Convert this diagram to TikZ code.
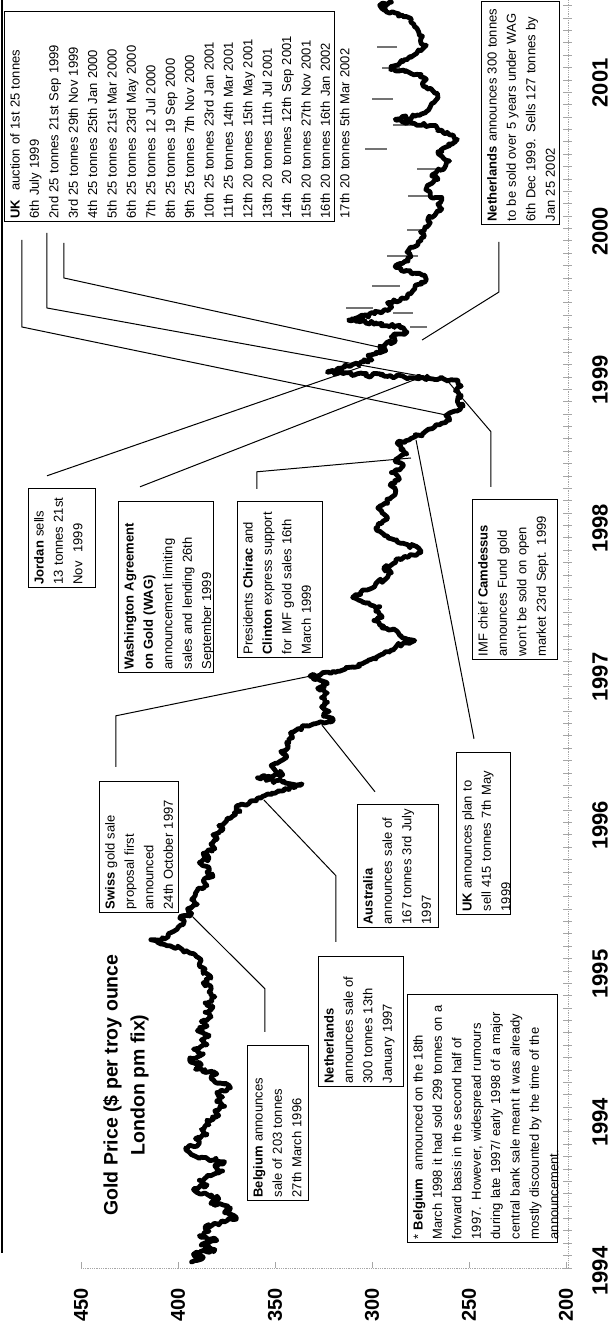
\documentclass[tikz,border=0pt]{standalone}
\usepackage{fontspec}
\setmainfont{Liberation Sans}
\usetikzlibrary{calc,decorations.pathmorphing}
\newcommand{\infofont}{\fontsize{13}{19.4}\selectfont}
\tikzset{
  infobox/.style={draw, line width=1.2pt, inner sep=3pt, align=left, anchor=north west, font=\infofont, text height=12pt},
  leader/.style={black, line width=1pt},
  goldline/.style={line width=4.8pt, line join=round, line cap=round, decorate, decoration={random steps, segment length=2.5pt, amplitude=2pt}},
  auction/.style={black!55, line width=1.2pt},
  axisline/.style={gray!70, line width=0.8pt, densely dotted},
  tickline/.style={gray!70, line width=0.8pt},
  yearlbl/.style={font=\fontsize{22}{24}\selectfont\bfseries},
  pricelbl/.style={font=\fontsize{20}{22}\selectfont\bfseries, anchor=east},
  titlelbl/.style={font=\fontsize{19.5}{27}\selectfont\bfseries, align=center}
}

\begin{document}
\begin{tikzpicture}[x=1pt,y=1pt]
\begin{scope}[rotate=90, transform shape]
  \useasboundingbox (0,0) rectangle (1326,616);
  \draw[line width=2.5pt] (73,614) -- (1326,614);
  % axes
  \draw[axisline] (58,48) -- (58,535);
  \draw[axisline] (58,48) -- (1326,48);
  \foreach \p in {200,250,...,450}{
    \draw[tickline] (58,{50+1.94*(\p-200)}) -- ++(6,0);
    \node[pricelbl] (p\p) at (41,{50+1.94*(\p-200)}) {\p};
  }
  \foreach \m in {0,...,102}
    \draw[tickline] ({58+12.375*\m},44) -- ++(0,9);
  \foreach \yr [count=\k from 0] in {1994,1994,1995,1996,1997,1998,1999,2000,2001}
    \node[yearlbl] (yr\k) at ({55+148.5*\k},16) {\yr};
  \node[titlelbl] (title) at (241,490) {Gold Price (\$ per troy ounce\\London pm fix)};

  % price curve, t in years from Jan 1994, p in $
  \begin{scope}[shift={(64pt,-338pt)}, x=154.2pt, y=1.94pt]
    \foreach \t/\a/\b in {7.879/287.1/297.4, 7.743/285.6/294.8, 7.542/289.2/300.0,
        7.374/278.9/289.2, 7.218/292.3/303.6, 7.088/266.5/276.8, 6.913/270.1/281.4,
        6.693/274.2/282.0, 6.524/276.3/292.3, 6.329/285.6/300.0, 6.187/299.5/313.4,
        6.154/278.9/289.2, 6.064/271.6/280.4}
      \draw[auction] (\t,\a) -- (\t,\b);
    \pgfmathsetseed{11}
    \draw[goldline] plot coordinates {
      (0.00,393) (0.03,387) (0.05,392) (0.08,381) (0.11,388) (0.14,380) (0.17,389) (0.20,384) (0.23,386) (0.26,376)
      (0.29,370) (0.32,376) (0.35,373) (0.38,383) (0.41,379) (0.44,388) (0.47,392) (0.50,385) (0.53,389) (0.56,383)
      (0.59,377) (0.62,381) (0.65,376) (0.68,388) (0.71,394) (0.74,396) (0.77,389) (0.80,391) (0.83,385) (0.86,388)
      (0.89,384) (0.92,385) (0.95,379) (0.98,381) (1.01,376) (1.04,380) (1.07,377) (1.10,380) (1.13,373) (1.16,378)
      (1.19,383) (1.22,380) (1.25,391) (1.28,388) (1.31,394) (1.35,387) (1.38,392) (1.41,385) (1.44,388) (1.47,384)
      (1.50,390) (1.53,385) (1.56,388) (1.59,383) (1.62,386) (1.65,382) (1.68,386) (1.72,381) (1.75,384) (1.78,383)
      (1.81,387) (1.84,383) (1.87,387) (1.90,386) (1.93,389) (1.96,388) (1.99,391) (2.02,396) (2.05,404) (2.07,410)
      (2.09,414) (2.11,405) (2.14,403) (2.17,400) (2.20,397) (2.23,399) (2.26,393) (2.29,395) (2.32,390) (2.35,393)
      (2.38,391) (2.41,390) (2.44,385) (2.47,387) (2.50,382) (2.53,385) (2.56,384) (2.59,389) (2.62,384) (2.65,387)
      (2.68,381) (2.71,383) (2.74,380) (2.77,382) (2.80,377) (2.83,379) (2.86,375) (2.89,372) (2.92,368) (2.95,370)
      (2.98,363) (3.01,357) (3.04,350) (3.07,345) (3.10,336) (3.12,350) (3.14,359) (3.16,346) (3.19,350) (3.22,352)
      (3.25,347) (3.28,344) (3.31,347) (3.34,343) (3.37,344) (3.40,341) (3.43,342) (3.46,338) (3.49,330) (3.51,320)
      (3.54,325) (3.57,322) (3.60,326) (3.63,323) (3.66,326) (3.69,323) (3.72,328) (3.75,323) (3.78,330) (3.80,332)
      (3.83,320) (3.86,310) (3.88,305) (3.91,298) (3.94,295) (3.97,289) (4.00,287) (4.03,278) (4.06,285) (4.10,290)
      (4.13,296) (4.16,299) (4.19,295) (4.22,298) (4.25,296) (4.28,305) (4.31,310) (4.34,306) (4.37,300) (4.40,298)
      (4.44,292) (4.47,290) (4.50,294) (4.53,289) (4.56,286) (4.60,275) (4.63,276) (4.66,285) (4.69,290) (4.72,294)
      (4.76,298) (4.79,295) (4.82,292) (4.86,295) (4.89,297) (4.92,292) (4.95,292) (4.98,288) (5.01,288) (5.05,290)
      (5.08,286) (5.12,290) (5.16,284) (5.20,288) (5.24,282) (5.27,284) (5.31,287) (5.34,280) (5.37,274) (5.40,271)
      (5.43,265) (5.46,260) (5.49,262) (5.52,257) (5.55,253) (5.58,256) (5.62,254) (5.65,257) (5.68,254) (5.72,256)
      (5.73,265) (5.75,300) (5.77,323) (5.79,318) (5.82,310) (5.85,300) (5.88,302) (5.91,293) (5.94,296) (5.97,288)
      (6.00,290) (6.03,282) (6.06,284) (6.09,298) (6.11,312) (6.13,305) (6.16,296) (6.19,290) (6.22,292) (6.25,282)
      (6.28,280) (6.31,278) (6.34,276) (6.37,272) (6.40,274) (6.43,285) (6.46,288) (6.49,283) (6.52,280) (6.55,282)
      (6.58,279) (6.62,276) (6.65,273) (6.68,275) (6.71,272) (6.74,270) (6.77,271) (6.80,267) (6.83,264) (6.86,266)
      (6.89,264) (6.92,270) (6.96,272) (6.99,270) (7.02,266) (7.05,269) (7.08,265) (7.11,262) (7.14,260) (7.17,264)
      (7.20,266) (7.23,262) (7.26,258) (7.28,256) (7.31,260) (7.34,264) (7.37,270) (7.39,280) (7.41,288) (7.43,278)
      (7.46,272) (7.49,270) (7.52,268) (7.55,266) (7.58,267) (7.61,270) (7.64,274) (7.67,272) (7.70,276) (7.72,283)
      (7.74,290) (7.77,286) (7.80,283) (7.83,278) (7.86,276) (7.89,272) (7.92,275) (7.95,274) (7.98,276) (8.01,278)
      (8.04,280) (8.07,281) (8.10,288) (8.13,295) (8.15,296) (8.17,290)};
    \coordinate (belgium-hit) at (2.237,392.3);
    \coordinate (nl97-hit) at (2.996,355.7);
    \coordinate (australia-hit) at (3.482,325.8);
    \coordinate (swiss-hit) at (3.807,328.9);
    \coordinate (chirac-hit) at (5.214,279.9);
    \coordinate (ukplan-hit) at (5.331,277.3);
    \coordinate (ukauc1-hit) at (5.493,261.9);
    \coordinate (wag-hit) at (5.720,278.4);
    \coordinate (ukauc2-hit) at (5.720,263.9);
    \coordinate (imf-hit) at (5.726,261.9);
    \coordinate (jordan-hit) at (5.804,305.7);
    \coordinate (ukauc3-hit) at (5.927,294.3);
    \coordinate (nl99-hit) at (5.979,274.2);
  \end{scope}

  % announcement boxes
  \node[infobox, text width=149pt, text depth=43pt] (belgium) at (125,369)
    {\textbf{Belgium} announces\\sale of 203 tonnes\\27th March 1996};
  \node[infobox, text width=242pt, text depth=132pt] (footnote) at (83,209)
    {* \textbf{Belgium}\ \ announced on the 18th\\March 1998 it had sold 299 tonnes on a\\forward basis in the second half of\\1997. However, widespread rumours\\during late 1997/ early 1998 of a major\\central bank sale meant it was already\\mostly discounted by the time of the\\announcement.};
  \node[infobox, text width=124pt, text depth=67pt] (nl97) at (239,298)
    {\textbf{Netherlands}\\announces sale of\\300 tonnes 13th\\January 1997};
  \node[infobox, text width=125pt, text depth=61pt] (swiss) at (413,517)
    {\textbf{Swiss} gold sale\\proposal first\\announced\\24th October 1997};
  \node[infobox, text width=117pt, text depth=63pt] (australia) at (398,259)
    {\textbf{Australia}\\announces sale of\\167 tonnes 3rd July\\1997};
  \node[infobox, text width=156pt, text depth=36pt] (ukplan) at (411,160)
    {\textbf{UK} announces plan to\\sell 415 tonnes 7th May\\1999};
  \node[infobox, text width=165pt, text depth=77pt] (wag) at (653,498)
    {\textbf{Washington Agreement}\\\textbf{on Gold (WAG)}\\announcement limiting\\sales and lending 26th\\September 1999};
  \node[infobox, text width=150pt, text depth=67pt] (chirac) at (668,379)
    {Presidents \textbf{Chirac} and\\\textbf{Clinton} express support\\for IMF gold sales 16th\\March 1999};
  \node[infobox, text width=154pt, text depth=67pt] (imf) at (666,144)
    {IMF chief \textbf{Camdessus}\\announces Fund gold\\won't be sold on open\\market 23rd Sept. 1999};
  \node[infobox, text width=93pt, text depth=49pt] (jordan) at (738,588)
    {\textbf{Jordan} sells\\13 tonnes 21st\\Nov\ \ 1999};
  \node[infobox, text width=204pt, text depth=312pt] (ukauc) at (1104,612)
    {\textbf{UK}\ \ auction of 1st 25 tonnes\\6th July 1999\\2nd 25 tonnes 21st Sep 1999\\3rd 25 tonnes 29th Nov 1999\\
     4th 25 tonnes 25th Jan 2000\\5th 25 tonnes 21st Mar 2000\\6th 25 tonnes 23rd May 2000\\7th 25 tonnes 12 Jul 2000\\
     8th 25 tonnes 19 Sep 2000\\9th 25 tonnes 7th Nov 2000\\10th 25 tonnes 23rd Jan 2001\\11th 25 tonnes 14th Mar 2001\\
     12th 20 tonnes 15th May 2001\\13th 20 tonnes 11th Jul 2001\\14th\ \ 20 tonnes 12th Sep 2001\\15th 20 tonnes 27th Nov 2001\\
     16th 20 tonnes 16th Jan 2002\\17th 20 tonnes 5th Mar 2002};
  \node[infobox, text width=217pt, text depth=60pt] (nl99) at (1101,135)
    {\textbf{Netherlands} announces 300 tonnes\\to be sold over 5 years under WAG\\6th Dec 1999. Sells 127 tonnes by\\Jan 25 2002};

  % leader lines
  \draw[leader] ([shift={(13,-18)}]belgium.north east) -- ++(43,0) -- (belgium-hit);
  \draw[leader] ([shift={(14,-18)}]nl97.north east) -- ++(66,0) -- (nl97-hit);
  \draw[leader] ([shift={(14,-17)}]swiss.north east) -- ++(51,0) -- (swiss-hit);
  \draw[leader] ([shift={(12,-18)}]australia.north east) -- (australia-hit);
  \draw[leader] ([shift={(13,-18)}]ukplan.north east) -- (ukplan-hit);
  \draw[leader] ([shift={(12,-20)}]chirac.north east) -- ++(17,0) -- (chirac-hit);
  \draw[leader] ([shift={(14,-22)}]wag.north east) -- (wag-hit);
  \draw[leader] ([shift={(12,-19)}]jordan.north east) -- (jordan-hit);
  \draw[leader] ([shift={(12,-19)}]imf.north east) -- ++(55,0) -- (imf-hit);
  \draw[leader] ([shift={(-18,-18)}]ukauc.north west) -- ++(-87,0) -- (ukauc1-hit);
  \draw[leader] ([shift={(-11,-43)}]ukauc.north west) -- ++(-75,0) -- (ukauc2-hit);
  \draw[leader] ([shift={(-21,-60)}]ukauc.north west) -- ++(-35,0) -- (ukauc3-hit);
  \draw[leader] ([shift={(-17,-18)}]nl99.north west) -- ++(-50,0) -- (nl99-hit);
\end{scope}
\end{tikzpicture}
\end{document}
